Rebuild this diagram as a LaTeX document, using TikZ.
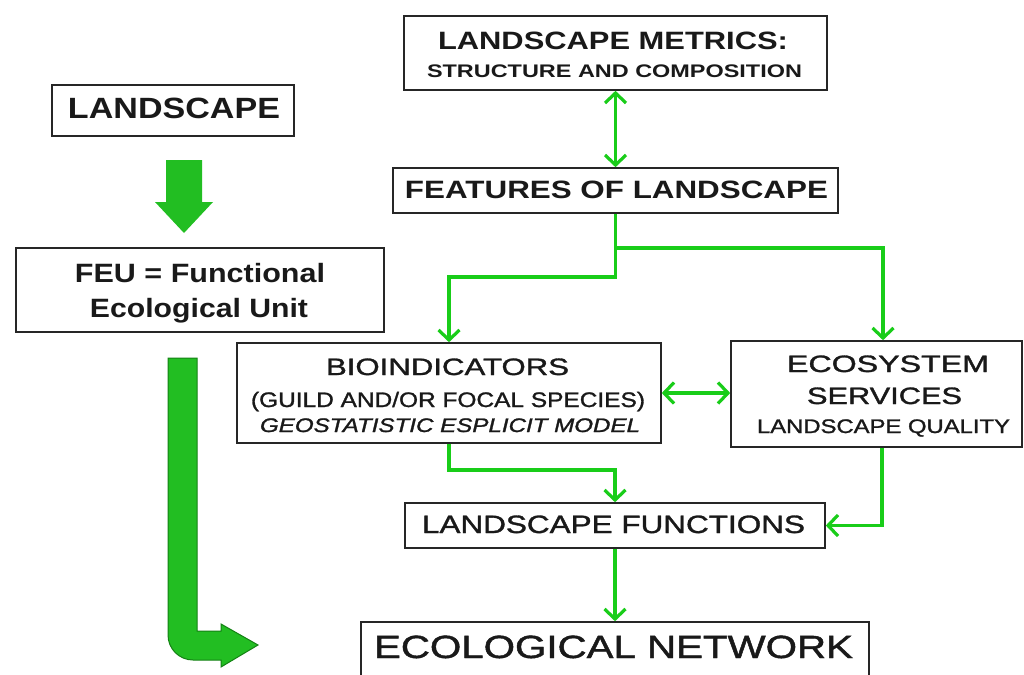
\documentclass[tikz,border=0pt]{standalone}
\usepackage{fontspec}
\setmainfont{Liberation Sans}
\newfontfamily\medfont[FakeBold=1.2]{Liberation Sans}
\usetikzlibrary{arrows.meta}
\definecolor{lgreen}{RGB}{25,205,25}
\definecolor{bgreen}{RGB}{34,190,34}
\definecolor{dgreen}{RGB}{20,130,20}
\newcommand\ft[3]{{\fontsize{#1pt}{#1pt}\selectfont\resizebox{#2pt}{\height}{#3}}}
\begin{document}
\begin{tikzpicture}[x=1pt,y=-1pt,
  box/.style={draw=black!85,line width=1.6pt,fill=white,inner sep=0pt},
  lbl/.style={inner sep=0pt,anchor=base,text=black!90},
  tip/.tip={Straight Barb[length=10pt,width=21pt,line width=3.2pt]},
  conn/.style={draw=lgreen,line width=3.2pt,-tip},
  dconn/.style={draw=lgreen,line width=3.2pt,tip-tip},
  bigarrow/.style={fill=bgreen,draw=dgreen,line width=1pt}]
\useasboundingbox (0,0) rectangle (1024,674);
\clip (0,0) rectangle (1024,674);
\fill[white] (0,0) rectangle (1024,674);
% boxes
\node[box,minimum width=242pt,minimum height=51pt] (land) at (173,110.5) {};
\node[box,minimum width=423pt,minimum height=74pt] (metrics) at (615.5,53) {};
\node[box,minimum width=445pt,minimum height=45pt] (features) at (615.5,190.5) {};
\node[box,minimum width=368pt,minimum height=84pt] (feu) at (200,290) {};
\node[box,minimum width=424pt,minimum height=100pt] (bio) at (449,393) {};
\node[box,minimum width=291pt,minimum height=106pt] (eco) at (876.5,394) {};
\node[box,minimum width=420pt,minimum height=45pt] (lf) at (615,525.5) {};
\node[box,minimum width=508pt,minimum height=78pt] (en) at (615,661) {};
% labels
\node[lbl] (t1) at (174,118) {\ft{29.3}{212}{\bfseries LANDSCAPE}};
\node[lbl] (t2) at (613,50) {\ft{25.1}{350}{\bfseries LANDSCAPE METRICS:}};
\node[lbl] (t3) at (614.5,78) {\ft{18.2}{375}{\bfseries STRUCTURE AND COMPOSITION}};
\node[lbl] (t4) at (616.5,198) {\ft{25.1}{423}{\bfseries FEATURES OF LANDSCAPE}};
\node[lbl] (t5) at (200,282) {\ft{26.5}{250}{\bfseries FEU = Functional}};
\node[lbl] (t6) at (199,317) {\ft{26.5}{218}{\bfseries Ecological Unit}};
\node[lbl] (t7) at (447.5,375) {\ft{23.7}{243}{\medfont BIOINDICATORS}};
\node[lbl] (t8) at (448,407) {\ft{21}{394}{\medfont (GUILD AND/OR FOCAL SPECIES)}};
\node[lbl] (t9) at (450,432) {\ft{19.6}{380}{\medfont\itshape GEOSTATISTIC ESPLICIT MODEL}};
\node[lbl] (t10) at (888,372) {\ft{23.7}{202}{\medfont ECOSYSTEM}};
\node[lbl] (t11) at (884.5,404) {\ft{23.7}{155}{\medfont SERVICES}};
\node[lbl] (t12) at (883.5,433) {\ft{19.6}{253}{\medfont LANDSCAPE QUALITY}};
\node[lbl] (t13) at (613.5,533) {\ft{25.1}{383}{\medfont LANDSCAPE FUNCTIONS}};
\node[lbl] (t14) at (613.5,658) {\ft{32.1}{479}{\medfont ECOLOGICAL NETWORK}};
% big green arrows
\fill[bgreen] (166,160) -- (202,160) -- (202,202) -- (213,202) -- (184,233) -- (155,202) -- (166,202) -- cycle;
\draw[bigarrow] (168,358) -- (197,358) -- (197,631) -- (221,631) -- (221,624) -- (258,645) -- (221,667) -- (221,660)
  -- (193,660) arc[start angle=90,end angle=180,radius=25] -- cycle;
% connectors
\coordinate (j1) at (615.5,248);
\coordinate (j2) at (615.5,277);
\coordinate (j3) at (615,470);
\draw[dconn] (metrics.south) -- (features.north);
\draw[conn] (features.south) -- (j1) -| ([xshift=6.5pt]eco.north);
\draw[conn] (j1) -- (j2) -| (bio.north);
\draw[dconn] (bio.east) -- (bio.east -| eco.west);
\draw[conn] (bio.south) |- (j3) -- (lf.north);
\draw[conn] ([xshift=5.5pt]eco.south) |- (lf.east);
\draw[conn] (lf.south) -- (en.north);
\end{tikzpicture}
\end{document}
